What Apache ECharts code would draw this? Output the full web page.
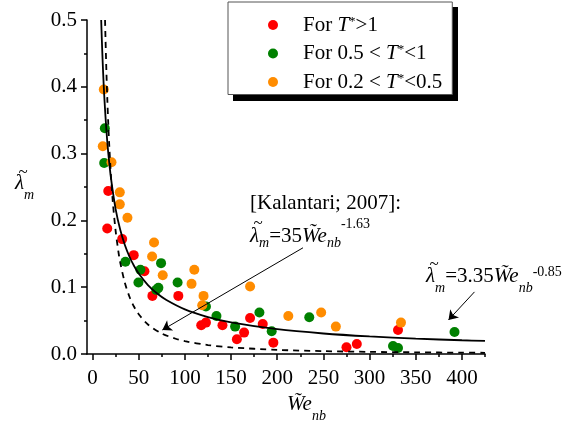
<!DOCTYPE html>
<html><head><meta charset="utf-8">
<script src="https://cdn.jsdelivr.net/npm/echarts@6/dist/echarts.min.js"></script>
<style>html,body{margin:0;padding:0;background:#fff}#c{width:572px;height:428px}</style>
</head><body><div id="c"></div>
<script>
// ---- data ----
const xTicks = [0, 50, 100, 150, 200, 250, 300, 350, 400];
const xMinorTicks = [25, 75, 125, 175, 225, 275, 325, 375, 425];
const seriesNames = ['For T*>1', 'For 0.5 < T*<1', 'For 0.2 < T*<0.5'];

const redX = [17, 15.9, 32.1, 44.6, 56.2, 64.8, 92.9, 117.7, 122.8, 140.7, 156.3, 164.1, 170.6, 184.3, 195.8, 275, 286.2, 330.8];
const redY = [0.244, 0.188, 0.172, 0.148, 0.124, 0.087, 0.087, 0.043, 0.047, 0.043, 0.022, 0.032, 0.054, 0.045, 0.017, 0.010, 0.015, 0.036];

const greenX = [13.3, 12.6, 35.6, 51.8, 49.7, 74.2, 71.3, 69, 92.1, 122.8, 134.2, 154.4, 180.7, 194, 234.7, 325.4, 330.8, 392];
const greenY = [0.338, 0.286, 0.138, 0.126, 0.107, 0.136, 0.099, 0.096, 0.107, 0.071, 0.057, 0.041, 0.062, 0.034, 0.055, 0.012, 0.009, 0.033];

const orangeX = [12.2, 11.1, 20.5, 29.5, 29.5, 37.8, 66.6, 64.5, 76, 107.2, 110.2, 120.2, 118.8, 170.6, 212, 247.6, 263.5, 334];
const orangeY = [0.396, 0.311, 0.287, 0.242, 0.224, 0.204, 0.167, 0.146, 0.118, 0.105, 0.126, 0.087, 0.073, 0.101, 0.057, 0.062, 0.041, 0.047];

// fitted curve (solid): lambda = 3.35 We^-0.85
const solidX = [9.37, 10, 11, 12, 13, 15, 17, 20, 25, 30, 35, 40, 45, 50, 60, 70, 80, 100, 125, 150, 200, 250, 300, 350, 400, 425];
const solidY = [0.5, 0.473, 0.4365, 0.405, 0.3786, 0.335, 0.3015, 0.263, 0.217, 0.186, 0.1631, 0.1456, 0.1318, 0.1205, 0.1032, 0.0905, 0.0808, 0.0668, 0.0553, 0.0474, 0.0371, 0.0307, 0.0263, 0.0230, 0.0206, 0.0196];

// Kalantari 2007 (dashed): lambda = 35 We^-1.63
const dashX = [13.55, 14, 15, 16, 17, 18, 20, 22, 25, 28, 30, 35, 40, 45, 50, 60, 75, 90, 100, 125, 150, 200, 250, 300, 350, 400, 425];
const dashY = [0.5, 0.4741, 0.4235, 0.3813, 0.3457, 0.3148, 0.2654, 0.2270, 0.1844, 0.1532, 0.137, 0.1065, 0.0857, 0.0707, 0.0595, 0.0442, 0.0307, 0.0228, 0.0192, 0.0134, 0.0099, 0.0062, 0.0043, 0.0032, 0.0025, 0.0020, 0.0018];

// arrow annotations (data coordinates: start -> end)
const arrow1 = [[227.9, 0.159], [75.6, 0.036]];
const arrow2 = [[413.6, 0.093], [385.5, 0.051]];

// ---- chart ----
const FF = 'Liberation Serif';
const FS = 21;
const pair = (xs, ys) => xs.map((x, i) => [x, ys[i]]);

const chart = echarts.init(document.getElementById('c'), null, {renderer: 'canvas'});

const mainTok = {fontFamily: FF, fontSize: FS, color: '#000', lineHeight: 24, verticalAlign: 'top', padding: [8, 0, 0, 0]};
const itTok = Object.assign({}, mainTok, {fontStyle: 'italic'});
function subTok(p) { return {fontFamily: FF, fontSize: 14, fontStyle: 'italic', color: '#000', lineHeight: 14, verticalAlign: 'top', padding: [p, 0, 0, 0]}; }
function supTok(p) { return {fontFamily: FF, fontSize: 14, color: '#000', lineHeight: 14, verticalAlign: 'top', padding: [p, 0, 0, 0]}; }
function tilde(cx, cy) {
  return {type: 'text', z: 101, style: {x: cx, y: cy, text: '~', align: 'center', verticalAlign: 'middle',
    fontFamily: FF, fontSize: 17, fill: '#000'}};
}
const tickRich = {t: {fontFamily: FF, fontSize: FS, color: '#000', lineHeight: 24}};

const legendRich = {
  p: {fontFamily: FF, fontSize: FS, color: '#000', lineHeight: 24, padding: [0, 0, 0, 20]},
  a: {fontFamily: FF, fontSize: FS, color: '#000', lineHeight: 24},
  i: {fontFamily: FF, fontSize: FS, fontStyle: 'italic', color: '#000', lineHeight: 24},
  s: {fontFamily: FF, fontSize: 13, color: '#000', lineHeight: 14, verticalAlign: 'top', padding: [2, 0, 0, 0]}
};
const legendFmt = {};
legendFmt[seriesNames[0]] = '{p|For }{i|T}{s|*}{a|>1}';
legendFmt[seriesNames[1]] = '{p|For }{a|0.5 < }{i|T}{s|*}{a|<1}';
legendFmt[seriesNames[2]] = '{p|For }{a|0.2 < }{i|T}{s|*}{a|<0.5}';

const option = {
  animation: false,
  backgroundColor: '#fff',
  textStyle: {fontFamily: FF, color: '#000'},
  grid: {left: 87, right: 87, top: 20, bottom: 74, containLabel: false},
  legend: {
    data: seriesNames,
    orient: 'vertical',
    left: 228, top: 2, z: 10,
    icon: 'circle', itemWidth: 10, itemHeight: 10, itemGap: 6,
    padding: [11, 10, 2, 40],
    backgroundColor: '#fff', borderColor: '#555', borderWidth: 1,
    formatter: n => legendFmt[n],
    textStyle: {fontFamily: FF, rich: legendRich}
  },
  xAxis: [{
    type: 'value', min: -6, max: 425,
    axisLine: {show: true, onZero: false, lineStyle: {color: '#000', width: 1.5}},
    axisTick: {show: true, customValues: xTicks, length: 6, lineStyle: {color: '#000', width: 1.5}},
    axisLabel: {customValues: xTicks, margin: 12, fontFamily: FF, fontSize: FS, color: '#000',
      formatter: v => '{t|' + v + '}', rich: tickRich},
    splitLine: {show: false}
  }, {
    type: 'value', min: -6, max: 425, position: 'bottom',
    axisLine: {show: false},
    axisTick: {show: true, customValues: xMinorTicks, length: 3, lineStyle: {color: '#000', width: 1.5}},
    axisLabel: {show: false},
    splitLine: {show: false}
  }],
  yAxis: {
    type: 'value', min: 0, max: 0.5, interval: 0.1,
    axisLine: {show: true, onZero: false, lineStyle: {color: '#000', width: 1.5}},
    axisTick: {show: true, length: 6, lineStyle: {color: '#000', width: 1.5}},
    minorTick: {show: true, splitNumber: 2, length: 3, lineStyle: {color: '#000', width: 1.5}},
    axisLabel: {margin: 10, fontFamily: FF, fontSize: FS, color: '#000',
      formatter: v => '{t|' + v.toFixed(1) + '}', rich: tickRich},
    splitLine: {show: false}, minorSplitLine: {show: false}
  },
  series: [
    {name: seriesNames[0], type: 'scatter', data: pair(redX, redY), symbolSize: 10, itemStyle: {color: '#ff0000', opacity: 1}},
    {name: seriesNames[1], type: 'scatter', data: pair(greenX, greenY), symbolSize: 10, itemStyle: {color: '#008000', opacity: 1}},
    {name: seriesNames[2], type: 'scatter', data: pair(orangeX, orangeY), symbolSize: 10, itemStyle: {color: '#ff8c00', opacity: 1}},
    {name: 'fit', type: 'line', data: pair(solidX, solidY), showSymbol: false, smooth: 0.3, silent: true, z: 5,
     lineStyle: {color: '#000', width: 1.8}},
    {name: 'kalantari', type: 'line', data: pair(dashX, dashY), showSymbol: false, smooth: 0.3, silent: true, z: 5,
     lineStyle: {color: '#000', width: 1.8, type: [6, 5]},
     markLine: {
       silent: true, symbol: ['none', 'arrow'], symbolSize: 9, label: {show: false},
       lineStyle: {color: '#000', width: 1, type: 'solid'},
       emphasis: {disabled: true},
       data: [
         [{coord: arrow1[0]}, {coord: arrow1[1]}],
         [{coord: arrow2[0]}, {coord: arrow2[1]}]
       ]
     }}
  ],
  graphic: [
    // legend drop shadow
    {type: 'rect', z: 0, shape: {x: 233, y: 7, width: 225, height: 94}, style: {fill: '#000'}},
    // y-axis title
    {type: 'text', z: 100, style: {x: 15, y: 165, verticalAlign: 'top',
      text: '{l|λ}{b|m}', rich: {l: itTok, b: subTok(23)}}},
    tilde(23, 173),
    // x-axis title
    {type: 'text', z: 100, style: {x: 287, y: 386, verticalAlign: 'top',
      text: '{w|W̃e}{b|nb}', rich: {w: itTok, b: subTok(23)}}},
    // Kalantari annotation
    {type: 'text', z: 100, style: {x: 250, y: 203, verticalAlign: 'middle',
      text: '[Kalantari; 2007]:', fontFamily: FF, fontSize: FS, fill: '#000'}},
    {type: 'text', z: 100, style: {x: 250, y: 217.5, verticalAlign: 'top',
      text: '{l|λ}{b|m}{n|=35}{w|W̃e}{b|nb}{s|-1.63}',
      rich: {l: itTok, n: mainTok, w: itTok, b: subTok(19), s: supTok(0)}}},
    tilde(258, 224),
    // present correlation annotation
    {type: 'text', z: 100, style: {x: 426, y: 258.3, verticalAlign: 'top',
      text: '{l|λ}{b|m}{n|=3.35}{w|W̃e}{b|nb}{s|-0.85}',
      rich: {l: itTok, n: mainTok, w: itTok, b: subTok(23), s: supTok(7)}}},
    tilde(434, 265)
  ]
};
chart.setOption(option);
</script>
</body></html>
